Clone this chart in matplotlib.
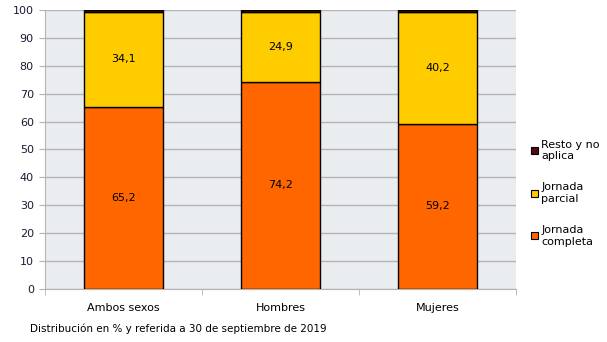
import numpy as np
import matplotlib.pyplot as plt
from matplotlib.patches import Patch

categories = ['Ambos sexos', 'Hombres', 'Mujeres']
completa = [65.2, 74.2, 59.2]
parcial = [34.1, 24.9, 40.2]
resto = [0.7, 0.9, 0.6]

c_completa = '#FF6600'
c_parcial = '#FFCC00'
c_resto = '#4D0B0B'

fig = plt.figure(figsize=(6.07, 3.42), dpi=100)
ax = fig.add_axes([0.0741, 0.155, 0.776, 0.816])
ax.set_facecolor('#EAEDF0')

x = np.arange(len(categories))
w = 0.5
ax.bar(x, completa, w, color=c_completa, edgecolor='black', linewidth=1, zorder=3)
ax.bar(x, parcial, w, bottom=completa, color=c_parcial, edgecolor='black', linewidth=1, zorder=3)
bottom3 = np.array(completa) + np.array(parcial)
ax.bar(x, resto, w, bottom=bottom3, color=c_resto, edgecolor='black', linewidth=1, zorder=3)

for i in range(len(categories)):
    ax.text(x[i], completa[i] / 2, f'{completa[i]:.1f}'.replace('.', ','),
            ha='center', va='center', fontsize=8, zorder=4)
    ax.text(x[i], completa[i] + parcial[i] / 2, f'{parcial[i]:.1f}'.replace('.', ','),
            ha='center', va='center', fontsize=8, zorder=4)

ax.set_xlim(-0.5, 2.5)
ax.set_ylim(0, 100)
ax.set_yticks(np.arange(0, 101, 10))
ax.yaxis.grid(True, color='#B4B4B4', linewidth=1, zorder=0)
ax.set_xticks(x)
ax.set_xticklabels(categories)
ax.set_xticks([-0.5, 0.5, 1.5, 2.5], minor=True)
ax.tick_params(axis='x', which='major', length=0, pad=10, labelsize=8)
ax.tick_params(axis='x', which='minor', length=4, color='#B4B4B4')
ax.tick_params(axis='y', length=4, color='#B4B4B4', labelsize=8, labelcolor='#1A1A33', pad=4)
for s in ['top', 'right']:
    ax.spines[s].set_visible(False)
ax.spines['left'].set_color('#B4B4B4')
ax.spines['bottom'].set_color('#B4B4B4')

handles = [Patch(facecolor=c_resto, edgecolor='black', linewidth=0.8),
           Patch(facecolor=c_parcial, edgecolor='black', linewidth=0.8),
           Patch(facecolor=c_completa, edgecolor='black', linewidth=0.8)]
labels = ['Resto y no\naplica', 'Jornada\nparcial', 'Jornada\ncompleta']
fig.legend(handles, labels, loc='upper left', bbox_to_anchor=(0.868, 0.605),
           frameon=False, fontsize=8, handlelength=0.6, handleheight=0.6,
           handletextpad=0.3, labelspacing=1.9, borderaxespad=0)

fig.text(0.049, 0.028, 'Distribución en % y referida a 30 de septiembre de 2019', fontsize=7.5)

fig.savefig('out.png', dpi=100)
